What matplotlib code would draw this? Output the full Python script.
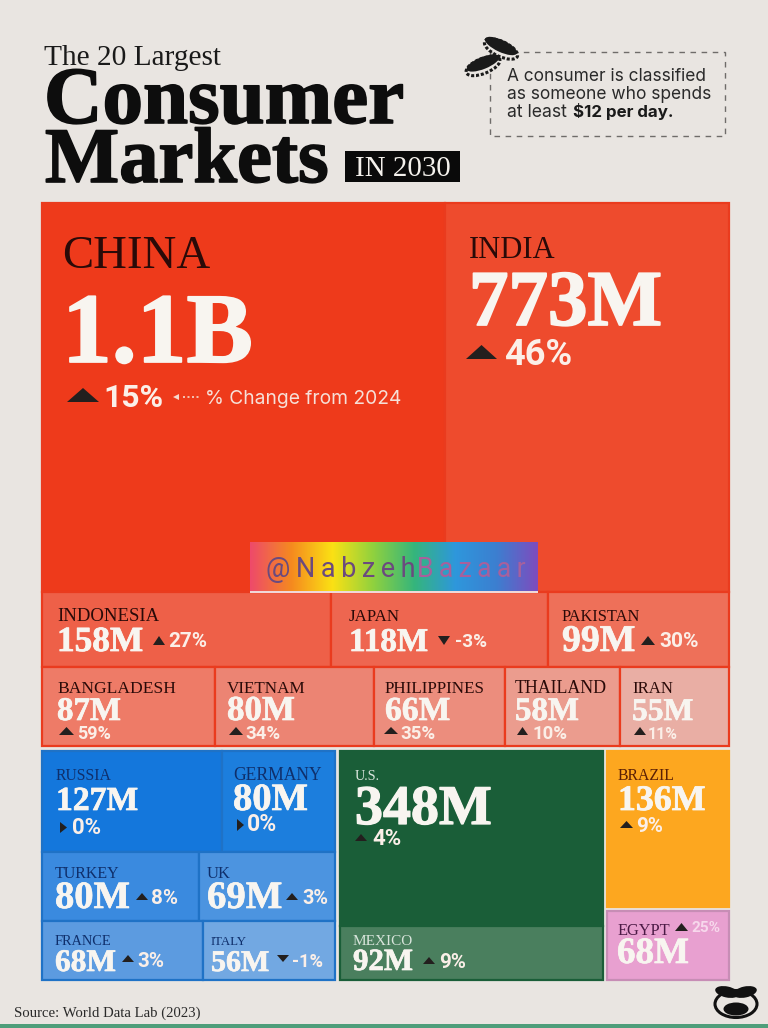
import matplotlib
matplotlib.use("Agg")
import matplotlib.pyplot as plt
from matplotlib.colors import LinearSegmentedColormap
from matplotlib.patches import Ellipse, Polygon, Rectangle
from matplotlib import patheffects
import numpy as np

# values in millions of consumers, change in % from 2024
asia_rows = [["China", "India"],
             ["Indonesia", "Japan", "Pakistan"],
             ["Bangladesh", "Vietnam", "Philippines", "Thailand", "Iran"]]
asia_values = [[1100, 773], [158, 118, 99], [87, 80, 66, 58, 55]]
asia_change = [[15, 46], [27, -3, 30], [59, 34, 35, 10, 11]]

europe_rows = [["Russia", "Germany"], ["Turkey", "UK"], ["France", "Italy"]]
europe_values = [[127, 80], [80, 69], [68, 56]]
europe_change = [[0, 0], [8, 3], [3, -1]]

america_rows = [["U.S."], ["Mexico"]]
america_values = [[348], [92]]
america_change = [[4], [9]]

other_rows = [["Brazil"], ["Egypt"]]
other_values = [[136], [68]]
other_change = [[9], [25]]

BG = "#E9E5E1"
SANS = ["Inter", "DejaVu Sans"]
PCT = ["Roboto", "DejaVu Sans"]
SERIF = "Liberation Serif"

# fill colours per cell
fills = {"China": "#EE3A1B", "India": "#EE4B2D", "Indonesia": "#EE6048", "Japan": "#EE6650",
         "Pakistan": "#EE7059", "Bangladesh": "#EE7B67", "Vietnam": "#EC8473", "Philippines": "#EC8D7D",
         "Thailand": "#EB9C8E", "Iran": "#E9AEA4", "Russia": "#1477DC", "Germany": "#1C7EDD",
         "Turkey": "#3A8ADF", "UK": "#4C94E0", "France": "#5C9BE0", "Italy": "#72A8E2",
         "U.S.": "#1A5E38", "Mexico": "#4A7F5E", "Brazil": "#FDA71F", "Egypt": "#E8A0D0"}
borders = {"Brazil": "#FDA71F", "Egypt": "#C78DB5"}

# px layout: name x, name width, name baseline, value width, value baseline,
# triangle x0, x1, top, base, pct x, pct width, pct baseline
labels = {
    "China": (62, 148, 268, 190, 362, 67, 99, 388, 402, 103, 60, 407),
    "India": (469, 86, 258, 192, 325, 466, 497, 345, 359, 504, 68, 365),
    "Indonesia": (57, 102, 621, 86, 651, 153, 165, 636, 645, 168, 39, 647),
    "Japan": (349, 51, 621, 79, 651, 438, 450, 636, 645, 455, 32, 647),
    "Pakistan": (562, 78, 621, 73, 651, 641, 655, 636, 645, 659, 39, 647),
    "Bangladesh": (57, 119, 693, 64, 720, 59, 74, 727, 735, 77, 34, 739),
    "Vietnam": (227, 79, 693, 68, 720, 229, 243, 727, 735, 245, 35, 739),
    "Philippines": (385, 101, 693, 65, 720, 384, 398, 727, 734, 400, 35, 739),
    "Thailand": (515, 92, 693, 64, 720, 517, 528, 727, 735, 532, 35, 739),
    "Iran": (632, 41, 693, 61, 720, 634, 646, 727, 735, 648, 30, 739),
    "Russia": (56, 56, 780, 82, 810, 60, 67, 822, 833, 72, 29, 834),
    "Germany": (233, 89, 780, 75, 810, 237, 244, 819, 831, 247, 30, 831),
    "Turkey": (55, 65, 878, 75, 908, 136, 148, 893, 900, 151, 27, 904),
    "UK": (207, 24, 878, 75, 908, 286, 298, 893, 900, 302, 26, 904),
    "France": (55, 57, 945, 61, 971, 122, 134, 955, 962, 137, 27, 967),
    "Italy": (211, 36, 945, 58, 971, 277, 289, 955, 962, 292, 31, 967),
    "U.S.": (355, 25, 780, 137, 824, 355, 367, 834, 841, 372, 29, 845),
    "Mexico": (353, 60, 945, 60, 970, 423, 435, 957, 964, 439, 27, 968),
    "Brazil": (618, 57, 780, 87, 810, 620, 633, 821, 828, 636, 27, 832),
    "Egypt": (617, 53, 935, 72, 963, 675, 688, 923, 931, 692, 29, 932),
}

fig = plt.figure(figsize=(7.68, 10.28), dpi=100, facecolor=BG)
ax = fig.add_axes([0, 0, 1, 1])
ax.set_xlim(0, 768)
ax.set_ylim(1028, 0)
ax.axis("off")
renderer = fig.canvas.get_renderer()


def put(x, y, s, width=None, size=10, stroke=0, **kw):
    # scale the font so the string comes out at the wanted pixel width
    t = ax.text(x, y, s, fontsize=size, va="baseline", ha="left", **kw)
    if width:
        t.set_fontsize(size * width / t.get_window_extent(renderer).width)
    if stroke:
        t.set_path_effects([patheffects.withStroke(linewidth=stroke, foreground=t.get_color())])
    return t


def edges(start, stop, weights, nudge):
    weights = np.array(weights, dtype=float)
    spans = (stop - start) * weights / weights.sum() + np.array(nudge)
    return start + np.concatenate([[0], np.cumsum(spans)])


def value_label(v):
    return f"{v / 1000:.1f}B" if v >= 1000 else f"{v}M"


def draw_block(x0, x1, y0, y1, rows, values, change, row_nudge, border, name_col, row_gap=0):
    ys = edges(y0, y1, [sum(r) for r in values], row_nudge)
    for i, row in enumerate(rows):
        xs = edges(x0, x1, values[i], [0] * len(row))
        top = ys[i] + (row_gap if i else 0)
        for j, name in enumerate(row):
            ax.add_patch(Rectangle((xs[j], top), xs[j + 1] - xs[j], ys[i + 1] - top,
                                   facecolor=fills[name], edgecolor=borders.get(name, border), linewidth=1.6))
            draw_label(name, values[i][j], change[i][j], name_col)


def draw_label(name, v, c, name_col):
    nx, nw, ny, vw, vy, t0, t1, ttop, tbase, px, pw, py = labels[name]
    col = {"Brazil": "#5A1F05", "Egypt": "#4B1A45"}.get(name, name_col)
    put(nx, ny, name.upper(), width=nw, family=SERIF, color=col)
    # the big numbers get a thin outline, the plain bold face is too light
    put(nx, vy, value_label(v), width=vw, stroke=max(0.5, vw / 150), family=SERIF, weight="bold", color="#F8F5F0")
    if c > 0:
        tri = [(t0, tbase), (t1, tbase), ((t0 + t1) / 2, ttop)]
    elif c < 0:
        tri = [(t0, ttop), (t1, ttop), ((t0 + t1) / 2, tbase)]
    else:
        tri = [(t0, ttop), (t1, (ttop + tbase) / 2), (t0, tbase)]
    ax.add_patch(Polygon(tri, closed=True, facecolor="#231F1E", edgecolor="none"))
    pct_col = "#F7D8EC" if name == "Egypt" else "#FBEFE8"
    put(px, py, f"{c}%", width=pw, family=PCT, weight="bold", color=pct_col)


# treemap: upper band is Asia, lower band has three regional columns
col_weights = [sum(map(sum, europe_values)), sum(map(sum, america_values)), sum(map(sum, other_values))]
cols = edges(42, 721, col_weights, [3, -3, 0])

draw_block(42, 729, 203, 746, asia_rows, asia_values, asia_change, [-3, -3.5, 6.5], "#EA3B1E", "#2A0A08")
draw_block(cols[0], cols[1], 751, 980, europe_rows, europe_values, europe_change, [2, -2, 0], "#1F72C6", "#0F2F6B")
draw_block(cols[1] + 5, cols[2] + 5, 751, 980, america_rows, america_values, america_change, [-6, 6], "#1A5E38", "#D9E5DC")
draw_block(cols[2] + 9, cols[3] + 8, 751, 980, other_rows, other_values, other_change, [3.3, -3.3], BG, "#5A1F05", row_gap=4)

# legend note inside the China cell
ax.plot([183, 200], [397, 397], color="#F6D8CC", lw=1.2, ls=(0, (1.2, 1.5)))
ax.plot([176], [397], marker="<", ms=4, color="#F6D8CC", mew=0)
put(205, 404, "% Change from 2024", width=197, family=SANS, color="#F6E0D8")

# header
put(44, 65, "The 20 Largest", width=177, family=SERIF, color="#1A1A1A")
put(44, 123, "Consumer", width=361, stroke=1.2, family=SERIF, weight="bold", color="#0D0D0D")
put(45, 182, "Markets", width=285, stroke=1.2, family=SERIF, weight="bold", color="#0D0D0D")
ax.add_patch(Rectangle((345, 151), 115, 31, facecolor="#0A0A0A", edgecolor="none"))
put(355, 176, "IN 2030", width=95, family=SERIF, color="#F4F1EC")

# note box and coins
ax.add_patch(Rectangle((490, 52), 234.5, 84, fill=False, edgecolor="#6F6C6A", lw=1, ls=(0, (4, 4))))
for cx, cy, ang in [(501, 47, 25), (483, 64, -22)]:
    ax.add_patch(Ellipse((cx, cy + 2), 36, 15, angle=ang, facecolor=BG, edgecolor="#1A1A1A", lw=2.2, ls=(0, (1, 0.6)), zorder=5))
    ax.add_patch(Ellipse((cx, cy - 1), 35, 12, angle=ang, facecolor="#1A1A1A", edgecolor="none", zorder=6))
put(507, 81, "A consumer is classified", width=200, family=SANS, color="#2A2A2A")
put(507, 99, "as someone who spends", width=205, family=SANS, color="#2A2A2A")
put(507, 117, "at least", width=60, family=SANS, color="#2A2A2A")
put(573, 117, "$12 per day.", width=101, family=SANS, weight="bold", color="#1A1A1A")

# watermark
rainbow = LinearSegmentedColormap.from_list("wm", ["#EE4A6A", "#F58A1F", "#FBE114", "#8FD13F", "#35B57C",
                                                  "#2E97DC", "#3C7FD0", "#7E4CBE"])
ax.imshow(np.linspace(0, 1, 256)[None, :], extent=(250, 538, 592, 542), cmap=rainbow, aspect="auto", zorder=7)
ax.set_xlim(0, 768)
ax.set_ylim(1028, 0)
ax.add_patch(Rectangle((250, 591), 288, 1.8, facecolor="#F0D8D8", edgecolor="none", zorder=8))
thin = "\u2009"
put(266, 577, thin.join("@Nabzeh"), width=150, family=["Roboto", "DejaVu Sans"], color="#6B4A7E", zorder=8)
put(417, 577, thin.join("Bazaar"), width=109, family=["Roboto", "DejaVu Sans"], color="#A8609C", zorder=8)

# footer
put(14, 1017, "Source: World Data Lab (2023)", width=187, family=SERIF, color="#2A2A2A")
ax.add_patch(Rectangle((0, 1024), 768, 4, facecolor="#4E9E7A", edgecolor="none"))

# mustache logo
ax.add_patch(Ellipse((736, 1004), 42, 27, fill=False, edgecolor="#111111", lw=2.2))
ax.add_patch(Ellipse((727, 992), 24, 11, angle=12, facecolor="#111111", edgecolor="none"))
ax.add_patch(Ellipse((745, 992), 24, 11, angle=-12, facecolor="#111111", edgecolor="none"))
ax.add_patch(Ellipse((736, 1009), 25, 13, facecolor="#111111", edgecolor="none"))

fig.savefig("out.png", dpi=100, facecolor=BG)
